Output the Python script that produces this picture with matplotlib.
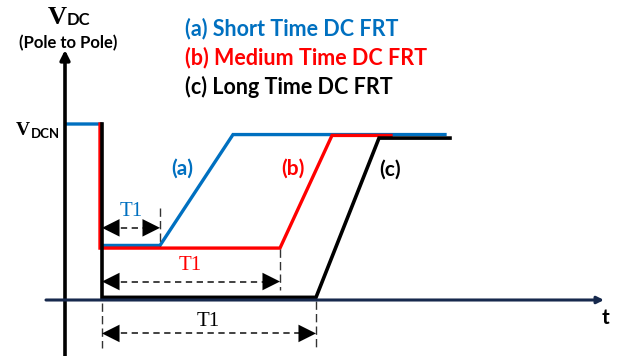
import matplotlib
matplotlib.use("Agg")
import matplotlib.pyplot as plt

# Time axis in arbitrary units, voltage in per-unit of V_DCN
t_fault = 0.36
t_end_a, t_end_b, t_end_c = 3.80, 3.26, 3.85

# (a) short-time FRT
t_a = [0.02, t_fault, t_fault, 0.95, 1.68, t_end_a]
v_a = [1.00, 1.00, 0.31, 0.31, 0.94, 0.94]
# (b) medium-time FRT
t_b = [t_fault - 0.01, t_fault - 0.01, 2.15, 2.67, t_end_b]
v_b = [1.00, 0.295, 0.295, 0.935, 0.935]
# (c) long-time FRT
t_c = [t_fault + 0.01, t_fault + 0.01, 2.51, 3.14, t_end_c]
v_c = [1.00, 0.015, 0.015, 0.92, 0.92]

# T1 dimension arrows: (start, end, height, colour of label)
dims = [
    (t_fault + 0.01, 0.95, 0.41, "#0070C0"),
    (t_fault + 0.01, 2.15, 0.105, "#FF0000"),
    (t_fault + 0.01, 2.51, -0.19, "black"),
]

BLUE = "#0070C0"
RED = "#FF0000"

fig = plt.figure(figsize=(6.27, 3.56), dpi=100)
ax = fig.add_axes([0, 0, 1, 1])
px = 100.0
ax.set_xlim(-65 / px, (627 - 65) / px)
ax.set_ylim(-56 / 176.0, 300 / 176.0)
ax.axis("off")

def X(p):
    return (p - 65) / px

def Y(p):
    return (300 - p) / 176.0

# axes with arrows
ax.annotate("", xy=(X(65), Y(50)), xytext=(X(65), Y(356)),
            arrowprops=dict(arrowstyle="-|>", color="black", lw=2.6,
                            mutation_scale=14, shrinkA=0, shrinkB=0))
ax.annotate("", xy=(X(604), Y(300)), xytext=(X(46), Y(300)),
            arrowprops=dict(arrowstyle="-|>", color="#17294D", lw=2.2,
                            mutation_scale=10, shrinkA=0, shrinkB=0))
ax.plot([X(46), X(600)], [Y(299.4), Y(299.4)], color="#4F81BD", lw=0.6)

# waveforms
ax.plot(t_a, v_a, color=BLUE, lw=2.4, solid_joinstyle="miter")
ax.plot(t_b, v_b, color=RED, lw=2.4, solid_joinstyle="miter")
ax.plot(t_c, v_c, color="black", lw=2.6, solid_joinstyle="miter")

# dimension lines
def dim_arrow(x0, x1, y):
    ax.plot([x0 + 0.08, x1 - 0.08], [y, y], color="#333333", lw=1.3,
            ls=(0, (3.5, 2.5)))
    for tip, tail in ((x0, x0 + 0.14), (x1, x1 - 0.14)):
        ax.annotate("", xy=(tip, y), xytext=(tail, y),
                    arrowprops=dict(arrowstyle="-|>,head_length=0.9,head_width=0.45",
                                    color="black", lw=0.01, mutation_scale=14,
                                    shrinkA=0, shrinkB=0))

for x0, x1, y, c in dims:
    dim_arrow(x0, x1, y)

# extension ticks
tick_ls = (0, (6, 3))
ax.plot([0.95, 0.95], [Y(208), Y(246)], color="#333333", lw=1.0, ls=tick_ls)
ax.plot([2.15, 2.15], [Y(249), Y(290)], color="#333333", lw=1.0, ls=tick_ls)
ax.plot([2.51, 2.51], [Y(301), Y(348)], color="#333333", lw=1.0, ls=tick_ls)
ax.plot([X(102), X(102)], [Y(303), Y(348)], color="#333333", lw=1.0, ls=tick_ls)

serif = "Liberation Serif"
sans = "Lato"

# T1 labels
ax.text(X(131), Y(211), "T1", color=BLUE, fontsize=15, family=serif,
        ha="center", va="center")
ax.text(X(190), Y(266), "T1", color=RED, fontsize=15, family=serif,
        ha="center", va="center")
ax.text(X(208), Y(321), "T1", color="black", fontsize=15, family=serif,
        ha="center", va="center")

# curve labels
ax.text(X(182), Y(169), "(a)", color=BLUE, fontsize=15, family=sans,
        weight="bold", ha="center", va="center")
ax.text(X(293), Y(169), "(b)", color=RED, fontsize=15, family=sans,
        weight="bold", ha="center", va="center")
ax.text(X(390), Y(170), "(c)", color="black", fontsize=15, family=sans,
        weight="bold", ha="center", va="center")

# legend-style captions
ax.text(X(185), Y(29), "(a) Short Time DC FRT", color=BLUE, fontsize=15.5,
        family=sans, weight="bold", ha="left", va="center")
ax.text(X(185), Y(58), "(b) Medium Time DC FRT", color=RED, fontsize=15.5,
        family=sans, weight="bold", ha="left", va="center")
ax.text(X(185), Y(87), "(c) Long Time DC FRT", color="black", fontsize=15.5,
        family=sans, weight="bold", ha="left", va="center")

# axis titles
ax.text(X(57), Y(17), "V", fontsize=19, family=serif, weight="bold",
        ha="center", va="center")
ax.text(X(67), Y(20), "DC", fontsize=12, family=sans, weight="bold",
        ha="left", va="center")
ax.text(X(68), Y(43), "(Pole to Pole)", fontsize=12, family=sans,
        weight="bold", ha="center", va="center")
ax.text(X(23), Y(130), "V", fontsize=14, family=serif, weight="bold",
        ha="center", va="center")
ax.text(X(31), Y(134), "DCN", fontsize=9.5, family=sans, weight="bold",
        ha="left", va="center")
ax.text(X(605), Y(318), "t", fontsize=15, family=sans, weight="bold",
        ha="center", va="center")

fig.savefig("out.png", dpi=100)
